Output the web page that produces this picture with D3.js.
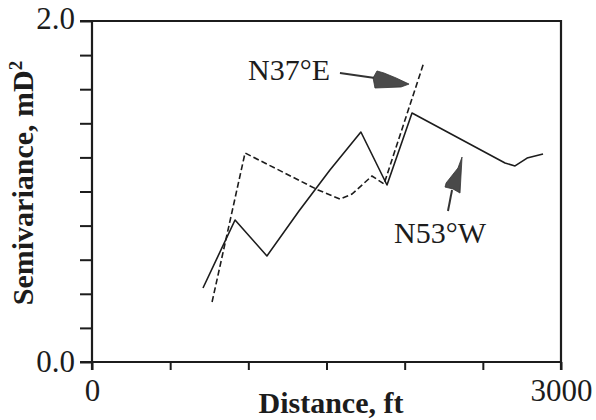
<!DOCTYPE html>
<html>
<head>
<meta charset="utf-8">
<script src="https://cdn.jsdelivr.net/npm/d3@7"></script>
<style>
  html, body { margin: 0; padding: 0; background: #fff; }
  svg { display: block; }
  text { fill: #1c1c1c; }
</style>
</head>
<body>
<svg id="chart" width="596" height="420"></svg>
<script>
// Experimental semivariograms of permeability along two directions
const lagN53W = [710, 915, 1119, 1324, 1522, 1720, 1887, 2047, 2642, 2706, 2783, 2885];
const gammaN53W = [0.434, 0.833, 0.622, 0.886, 1.126, 1.349, 1.038, 1.460, 1.167, 1.150, 1.196, 1.220];

const lagN37E = [768, 979, 1446, 1586, 1663, 1791, 1868, 2124];
const gammaN37E = [0.352, 1.226, 1.009, 0.956, 0.985, 1.091, 1.044, 1.760];

const xTicks = [0, 500, 1000, 1500, 2000, 2500, 3000];
const xTickLabels = ["0", "", "", "", "", "", "3000"];
const yTicks = [0, 0.2, 0.4, 0.6, 0.8, 1.0, 1.2, 1.4, 1.6, 1.8, 2.0];
const yTickLabels = ["0.0", "", "", "", "", "", "", "", "", "", "2.0"];

// Direction labels with their pointer arrows (data units)
const labelN37E = { text: "N37°E", x: 998, y: 1.654 };
const leaderN37E = [[1586, 1.695], [1810, 1.666]];
const headN37E = [[1798, 1.666], [1823, 1.707], [1868, 1.695], [1945, 1.666], [2028, 1.630], [1977, 1.613], [1810, 1.607]];

const labelN53W = { text: "N53°W", x: 1932, y: 0.698 };
const leaderN53W = [[2303, 1.009], [2277, 0.886]];
const headN53W = [[2367, 1.202], [2341, 1.138], [2265, 1.050], [2258, 1.026], [2309, 1.015], [2354, 0.991]];

const svg = d3.select("#chart");
const ink = "#1c1c1c";
const serif = "'Liberation Serif', 'Times New Roman', serif";

const x = d3.scaleLinear().domain([0, 3000]).range([92, 561]);
const y = d3.scaleLinear().domain([0, 2]).range([362, 21]);

// Axes
const yAxis = d3.axisLeft(y)
  .tickValues(yTicks)
  .tickSize(12)
  .tickPadding(5)
  .tickFormat((d, i) => yTickLabels[i]);
const gy = svg.append("g").attr("transform", `translate(${x(0)},0)`).call(yAxis);

const xAxis = d3.axisBottom(x)
  .tickValues(xTicks)
  .tickSize(8)
  .tickPadding(9)
  .tickFormat((d, i) => xTickLabels[i]);
const gx = svg.append("g").attr("transform", `translate(0,${y(0)})`).call(xAxis);

[gx, gy].forEach(g => {
  g.select(".domain").remove();
  g.selectAll(".tick line").attr("stroke", ink).attr("stroke-width", 2);
  g.selectAll(".tick text")
    .attr("font-family", serif)
    .attr("font-size", 31)
    .attr("fill", ink);
});
gy.selectAll(".tick text").filter(d => d === 2).attr("dy", "0.23em");
gy.selectAll(".tick text").filter(d => d === 0).attr("dy", "0.32em");

// Plot frame
svg.append("path")
  .attr("d", `M${x(0) - 12},${y(2)}H${x(3000)}V${y(0) + 8}M${x(0)},${y(2)}V${y(0) + 8}M${x(0) - 12},${y(0)}H${x(3000)}`)
  .attr("fill", "none")
  .attr("stroke", ink)
  .attr("stroke-width", 2.2);

// Semivariogram lines
const line = d3.line().x(d => x(d[0])).y(d => y(d[1]));

svg.append("path")
  .datum(d3.zip(lagN53W, gammaN53W))
  .attr("d", line)
  .attr("fill", "none")
  .attr("stroke", ink)
  .attr("stroke-width", 1.6)
  .attr("stroke-linejoin", "round");

svg.append("path")
  .datum(d3.zip(lagN37E, gammaN37E))
  .attr("d", line)
  .attr("fill", "none")
  .attr("stroke", ink)
  .attr("stroke-width", 1.6)
  .attr("stroke-dasharray", "6,3");

// Direction annotations
const pointer = (leader, head) => {
  svg.append("path")
    .datum(leader)
    .attr("d", line)
    .attr("fill", "none")
    .attr("stroke", "#333")
    .attr("stroke-width", 2);
  svg.append("path")
    .datum(head)
    .attr("d", d => line(d) + "Z")
    .attr("fill", "#4a4a4a")
    .attr("stroke", "#333")
    .attr("stroke-width", 0.8);
};
pointer(leaderN37E, headN37E);
pointer(leaderN53W, headN53W);

[labelN37E, labelN53W].forEach(l => {
  svg.append("text")
    .attr("x", x(l.x))
    .attr("y", y(l.y))
    .attr("font-family", serif)
    .attr("font-size", 30)
    .text(l.text);
});

// Axis titles
svg.append("text")
  .attr("x", 331)
  .attr("y", 413)
  .attr("text-anchor", "middle")
  .attr("font-family", serif)
  .attr("font-weight", "bold")
  .attr("font-size", 30)
  .text("Distance, ft");

const yTitle = svg.append("text")
  .attr("transform", "translate(33,183) rotate(-90)")
  .attr("text-anchor", "middle")
  .attr("font-family", serif)
  .attr("font-weight", "bold")
  .attr("font-size", 30);
yTitle.append("tspan").text("Semivariance, mD");
yTitle.append("tspan").attr("font-size", 19).attr("dy", -11).text("2");
</script>
</body>
</html>
